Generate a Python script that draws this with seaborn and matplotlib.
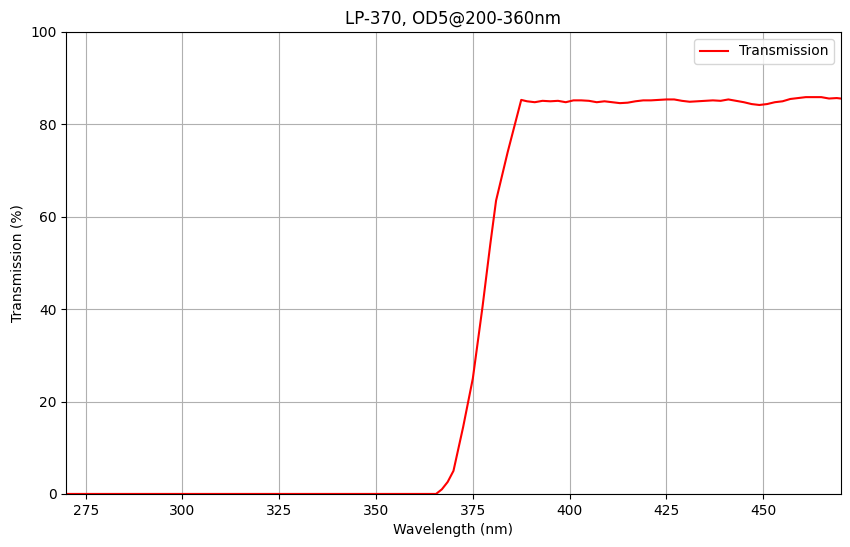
import matplotlib
matplotlib.use("Agg")
import matplotlib.pyplot as plt
import seaborn as sns
import pandas as pd

wavelength = [270, 300, 330, 360, 365.5, 367, 368.5, 370, 372.5, 375, 377.5, 379.5, 381, 384, 387.5,
              389, 391, 393, 395, 397, 399, 401, 403, 405, 407, 409, 411, 413, 415, 417, 419, 421,
              423, 425, 427, 429, 431, 433, 435, 437, 439, 441, 443, 445, 447, 449, 451, 453, 455,
              457, 459, 461, 463, 465, 467, 469, 470]
transmission = [0, 0, 0, 0, 0, 1.0, 2.6, 5.0, 14.5, 25, 40.5, 54, 63.5, 74, 85.3,
                85.0, 84.8, 85.1, 85.0, 85.1, 84.8, 85.2, 85.2, 85.1, 84.8, 85.0, 84.8, 84.6, 84.7,
                85.0, 85.2, 85.2, 85.3, 85.4, 85.4, 85.1, 84.9, 85.0, 85.1, 85.2, 85.1, 85.4, 85.1,
                84.8, 84.4, 84.2, 84.4, 84.8, 85.0, 85.5, 85.7, 85.9, 85.9, 85.9, 85.6, 85.7, 85.6]

df = pd.DataFrame({"Wavelength (nm)": wavelength, "Transmission (%)": transmission})

fig = plt.figure(figsize=(8.5, 5.47), dpi=100)
ax = fig.add_axes([0.078, 0.097, 0.911, 0.8445])
sns.lineplot(data=df, x="Wavelength (nm)", y="Transmission (%)", color="red",
             label="Transmission", ax=ax, linewidth=1.5)
ax.set_xlim(270, 470)
ax.set_ylim(0, 100)
ax.grid(True, color="#b0b0b0", linewidth=0.8)
ax.set_title("LP-370, OD5@200-360nm")
ax.legend(loc="upper right")
fig.savefig("out.png", dpi=100)
